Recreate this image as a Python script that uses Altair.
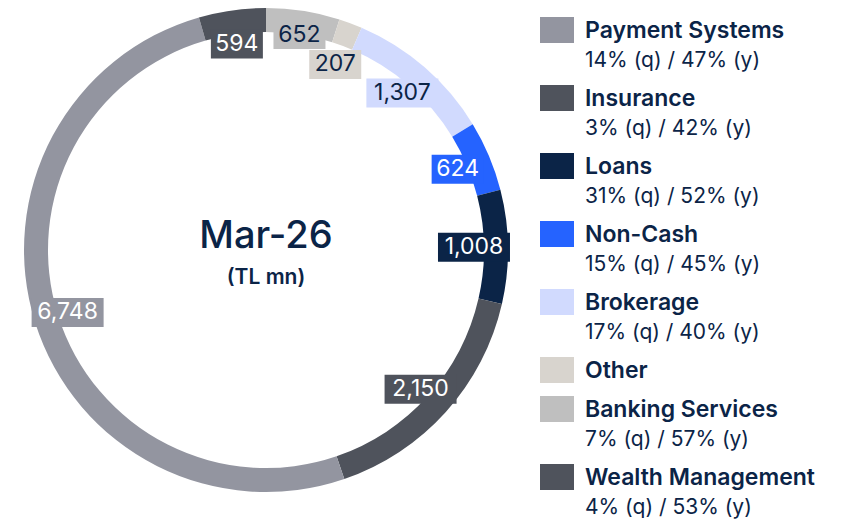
import math
import altair as alt
import pandas as pd

# ---- data ----
seg_names = ["Banking Services", "Other", "Brokerage", "Non-Cash", "Loans",
             "Insurance", "Payment Systems", "Wealth Management"]
seg_values = [652, 207, 1307, 624, 1008, 2150, 6748, 594]
seg_label_colors = ["#0b2447", "#0b2447", "#0b2447", "white", "white",
                    "white", "white", "white"]

legend_names = ["Payment Systems", "Insurance", "Loans", "Non-Cash",
                "Brokerage", "Other", "Banking Services", "Wealth Management"]
legend_subs = ["14% (q) / 47% (y)", "3% (q) / 42% (y)", "31% (q) / 52% (y)",
               "15% (q) / 45% (y)", "17% (q) / 40% (y)", "",
               "7% (q) / 57% (y)", "4% (q) / 53% (y)"]
legend_colors = ["#9395a0", "#4f535c", "#0b2447", "#2563ff",
                 "#d1dafe", "#d8d4ce", "#bfbfbf", "#4f535c"]

center_title = "Mar-26"
center_sub = "(TL mn)"

NAVY = "#0b2447"
FONT = "Inter"
W, H = 828, 512
CX, CY = 258, 242
R_OUT, R_IN, R_LAB = 242, 218, 208
BOX_H = 29

color_map = dict(zip(legend_names, legend_colors))


def text_w(s):
    return sum(6 if c == "," else 14 for c in s) + 10


# ---- donut table ----
seg = pd.DataFrame({"name": seg_names, "value": seg_values,
                    "order": range(len(seg_names)),
                    "tcolor": seg_label_colors})
total = seg["value"].sum()
cum = seg["value"].cumsum()
mids = list((cum - seg["value"] / 2) / total * 2 * math.pi)
seg["label"] = seg["value"].map(lambda v: f"{v:,}")
widths = [text_w(s) for s in seg["label"]]
radii = [R_LAB] * len(mids)


def box(i):
    x = CX + radii[i] * math.sin(mids[i])
    y = CY - radii[i] * math.cos(mids[i])
    return x, y


def overlap(i, j):
    xi, yi = box(i)
    xj, yj = box(j)
    return (abs(xi - xj) < (widths[i] + widths[j]) / 2
            and abs(yi - yj) < BOX_H)


# simple label collision avoidance: push neighbours apart radially
n = len(mids)
for _ in range(60):
    moved = False
    for i in range(n):
        j = (i + 1) % n
        if overlap(i, j):
            radii[i] += 0.5
            radii[j] -= 0.5
            moved = True
    if not moved:
        break

seg["lx"] = [box(i)[0] for i in range(n)]
seg["ly"] = [box(i)[1] for i in range(n)]
seg["bw"] = widths
seg["x1"] = seg["lx"] - seg["bw"] / 2
seg["x2"] = seg["lx"] + seg["bw"] / 2
seg["y1"] = seg["ly"] - BOX_H / 2
seg["y2"] = seg["ly"] + BOX_H / 2
seg["fill"] = seg["name"].map(color_map)

# ---- legend table ----
tops = []
y = 9
for s in legend_subs:
    tops.append(y)
    y += 68 if s else 39
leg = pd.DataFrame({"name": legend_names, "sub": legend_subs,
                    "color": legend_colors, "top": tops})
leg["bot"] = leg["top"] + 26
leg["ty"] = leg["top"] + 14
leg["sy"] = leg["top"] + 44
leg["sx1"] = 532
leg["sx2"] = 566
leg["tx"] = 577

xs = alt.Scale(domain=[0, W], nice=False, zero=False)
ys = alt.Scale(domain=[H, 0], nice=False, zero=False)

color_scale = alt.Scale(domain=legend_names, range=legend_colors)

arcs = alt.Chart(seg).mark_arc(outerRadius=R_OUT, innerRadius=R_IN, stroke=None).encode(
    theta=alt.Theta("value:Q", stack=True),
    order=alt.Order("order:Q"),
    color=alt.Color("name:N", scale=color_scale, legend=None),
    x=alt.value(CX), y=alt.value(CY),
)

boxes = alt.Chart(seg).mark_rect().encode(
    x=alt.X("x1:Q", scale=xs, axis=None), x2="x2:Q",
    y=alt.Y("y1:Q", scale=ys, axis=None), y2="y2:Q",
    color=alt.Color("fill:N", scale=None),
)

labels = alt.Chart(seg).mark_text(font=FONT, fontSize=23, align="center",
                                  baseline="middle").encode(
    x=alt.X("lx:Q", scale=xs, axis=None),
    y=alt.Y("ly:Q", scale=ys, axis=None),
    text="label:N",
    color=alt.Color("tcolor:N", scale=None),
)

swatches = alt.Chart(leg).mark_rect().encode(
    x=alt.X("sx1:Q", scale=xs, axis=None), x2="sx2:Q",
    y=alt.Y("top:Q", scale=ys, axis=None), y2="bot:Q",
    color=alt.Color("color:N", scale=None),
)

leg_titles = alt.Chart(leg).mark_text(font=FONT, fontSize=23, fontWeight=600,
                                      align="left", baseline="middle",
                                      color=NAVY).encode(
    x=alt.X("tx:Q", scale=xs, axis=None),
    y=alt.Y("ty:Q", scale=ys, axis=None),
    text="name:N",
)

leg_subs = alt.Chart(leg).mark_text(font=FONT, fontSize=21, fontWeight=400,
                                    align="left", baseline="middle",
                                    color=NAVY).encode(
    x=alt.X("tx:Q", scale=xs, axis=None),
    y=alt.Y("sy:Q", scale=ys, axis=None),
    text="sub:N",
)

center = pd.DataFrame({"t": [center_title, center_sub],
                       "x": [CX, CX], "y": [CY - 13, CY + 28]})
c1 = alt.Chart(center.iloc[[0]]).mark_text(font=FONT, fontSize=38, fontWeight=500,
                                         color=NAVY, baseline="middle").encode(
    x=alt.X("x:Q", scale=xs, axis=None), y=alt.Y("y:Q", scale=ys, axis=None), text="t:N")
c2 = alt.Chart(center.iloc[[1]]).mark_text(font=FONT, fontSize=21, fontWeight=600,
                                         color=NAVY, baseline="middle").encode(
    x=alt.X("x:Q", scale=xs, axis=None), y=alt.Y("y:Q", scale=ys, axis=None), text="t:N")

chart = alt.layer(arcs, boxes, labels, swatches, leg_titles, leg_subs, c1, c2).properties(
    width=W, height=H, padding=0, autosize=alt.AutoSizeParams(type="none")
).configure_view(stroke=None)

chart.save("out.html", embed_options={"renderer": "svg", "actions": False})
